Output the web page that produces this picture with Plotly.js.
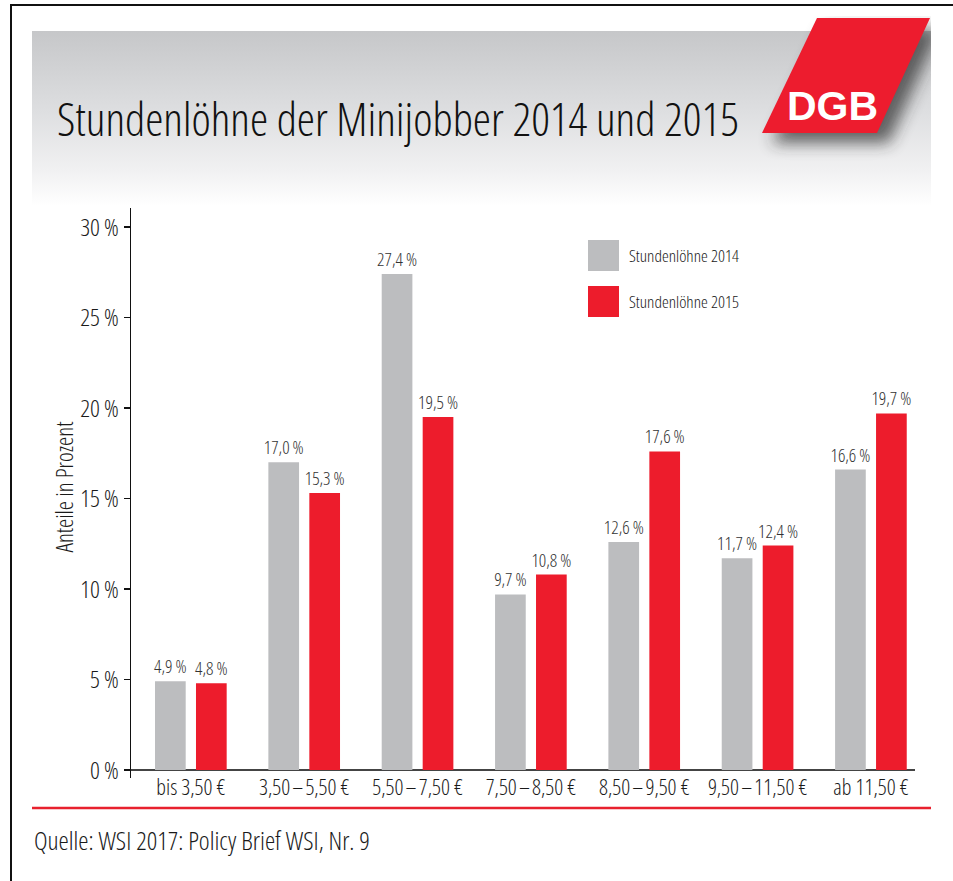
<!DOCTYPE html>
<html>
<head>
<meta charset="utf-8">
<script src="https://cdn.plot.ly/plotly-3.0.1.min.js"></script>
<style>html,body{margin:0;padding:0;background:#fff;}#chart{width:953px;height:881px;}</style>
<style id="stretchcss"></style>
</head>
<body>
<div id="chart"></div>
<script>
// ---- data ----
const categories = ["bis 3,50 €", "3,50\u200A–\u200A5,50 €", "5,50\u200A–\u200A7,50 €", "7,50\u200A–\u200A8,50 €", "8,50\u200A–\u200A9,50 €", "9,50\u200A–\u200A11,50 €", "ab 11,50 €"];
const values2014 = [4.9, 17.0, 27.4, 9.7, 12.6, 11.7, 16.6];
const values2015 = [4.8, 15.3, 19.5, 10.8, 17.6, 12.4, 19.7];
const seriesNames = ["Stundenlöhne 2014", "Stundenlöhne 2015"];
const yTickVals = [0, 5, 10, 15, 20, 25, 30];
const titleText = "Stundenlöhne der Minijobber 2014 und 2015";
const yTitleText = "Anteile in Prozent";
const sourceText = "Quelle: WSI 2017: Policy Brief WSI, Nr. 9";

// ---- font selection (condensed look) ----
function measure(text, family, stretch, weight) {
  const s = document.createElement("span");
  s.style.cssText = "position:absolute;visibility:hidden;white-space:nowrap;font-size:100px;left:0;top:0;";
  s.style.fontFamily = family;
  if (stretch) s.style.fontStretch = stretch;
  if (weight) s.style.fontWeight = weight;
  s.textContent = text;
  document.body.appendChild(s);
  const w = s.getBoundingClientRect().width;
  document.body.removeChild(s);
  return w;
}
let FONT = "'DejaVu Sans Condensed', sans-serif", STRETCH = null;
for (const fam of ["'Open Sans'", "'Noto Sans'"]) {
  const n = measure(titleText, fam, null), c = measure(titleText, fam, "75%");
  if (c < 0.9 * n) { FONT = fam + ", sans-serif"; STRETCH = "75%"; break; }
}
// apply to every svg text (also Plotly's hidden measuring element)
if (STRETCH) document.getElementById("stretchcss").textContent = "text, tspan{font-stretch:" + STRETCH + " !important;}";
const TW = 300, SW = 300;
const fit = (text, target, weight) => Math.max(8, Math.min(60, target / measure(text, FONT, STRETCH, weight) * 100));

const SZ = {
  title: fit(titleText, 682, TW),
  source: fit(sourceText, 336, SW),
  legend: fit(seriesNames[0], 110, SW),
  ytitle: fit(yTitleText, 131, SW),
  xtick: fit(categories[0], 69, SW),
  value: fit("27,4\u2009%", 40, SW),
  ytick: fit("30 %", 39, SW)
};

// ---- layout helpers ----
const FW = 953, FH = 881;
const M = {l: 131, r: 38, t: 208, b: 103};
const PW = FW - M.l - M.r, PH = FH - M.t - M.b;
const px = x => (x - M.l) / PW;
const py = y => (FH - M.b - y) / PH;
const GRAY = "#bcbdbf", RED = "#ed1c2c";
const fmt = v => v.toFixed(1).replace(".", ",") + "\u2009%";

const bg = `<svg xmlns='http://www.w3.org/2000/svg' width='953' height='881' viewBox='0 0 953 881' preserveAspectRatio='none'>
<defs>
<linearGradient id='g' x1='0' y1='0' x2='0' y2='1'>
<stop offset='0' stop-color='#c6c7c9'/>
<stop offset='0.45' stop-color='#dddee0'/>
<stop offset='0.8' stop-color='#f1f1f2'/>
<stop offset='1' stop-color='#ffffff'/>
</linearGradient>
<filter id='b' x='-50%' y='-50%' width='200%' height='200%'><feGaussianBlur stdDeviation='8'/></filter>
<clipPath id='c'><rect x='32' y='16' width='899' height='190'/></clipPath>
</defs>
<rect x='32' y='31' width='899' height='175' fill='url(#g)'/>
<g clip-path='url(#c)'><polygon points='826,28 940,28 889,143 772,143' fill='#2a2a2a' opacity='0.7' filter='url(#b)'/></g>
</svg>`;

const traces = [
  {type: "bar", name: seriesNames[0], x: categories, y: values2014, marker: {color: GRAY},
   text: values2014.map(fmt), textposition: "outside", cliponaxis: false, constraintext: "none",
   textfont: {family: FONT, size: SZ.value, weight: SW, color: "#333"}, hoverinfo: "x+y"},
  {type: "bar", name: seriesNames[1], x: categories, y: values2015, marker: {color: RED},
   text: values2015.map(fmt), textposition: "outside", cliponaxis: false, constraintext: "none",
   textfont: {family: FONT, size: SZ.value, weight: SW, color: "#333"}, hoverinfo: "x+y"}
];

const layout = {
  width: FW, height: FH,
  margin: M,
  paper_bgcolor: "#fff", plot_bgcolor: "rgba(0,0,0,0)",
  showlegend: false,
  barmode: "group", bargap: 0.277, bargroupgap: 0.251,
  font: {family: FONT, color: "#222"},
  xaxis: {type: "category", range: [-0.528, 6.389], showgrid: false, showline: false, zeroline: false,
          tickangle: 0, ticks: "", tickfont: {family: FONT, size: SZ.xtick, weight: SW, color: "#1a1a1a"},
          ticklabelstandoff: -6, fixedrange: true},
  yaxis: {range: [-0.44, 31.05], showgrid: false, showline: true, linecolor: "#111", linewidth: 1.5,
          zeroline: true, zerolinecolor: "#444", zerolinewidth: 1.5,
          ticks: "outside", ticklen: 6, tickwidth: 1.5, tickcolor: "#111",
          tickvals: yTickVals, ticktext: yTickVals.map(v => v + "\u2009%"),
          tickfont: {family: FONT, size: SZ.ytick, weight: SW, color: "#1a1a1a"}, fixedrange: true},
  images: [{source: "data:image/svg+xml;charset=utf-8," + encodeURIComponent(bg),
            xref: "paper", yref: "paper", x: px(0), y: py(0), sizex: FW / PW, sizey: FH / PH,
            xanchor: "left", yanchor: "top", sizing: "stretch", layer: "below"}],
  shapes: [
    {type: "rect", xref: "paper", yref: "paper", x0: px(11), x1: px(960), y0: py(5), y1: py(900),
     line: {color: "#111", width: 2}, fillcolor: "rgba(0,0,0,0)"},
    {type: "path", xref: "paper", yref: "paper",
     path: `M ${px(817)} ${py(18)} L ${px(930)} ${py(18)} L ${px(877)} ${py(133)} L ${px(762)} ${py(133)} Z`,
     fillcolor: "#ed1c2e", line: {width: 0}},
    {type: "rect", xref: "paper", yref: "paper", x0: px(588), x1: px(619), y0: py(240), y1: py(271),
     fillcolor: GRAY, line: {width: 0}},
    {type: "rect", xref: "paper", yref: "paper", x0: px(588), x1: px(619), y0: py(286), y1: py(317),
     fillcolor: RED, line: {width: 0}},
    {type: "line", xref: "paper", yref: "paper", x0: px(32), x1: px(931), y0: py(808), y1: py(808),
     line: {color: "#e8212e", width: 2.5}}
  ],
  annotations: [
    {text: titleText, xref: "paper", yref: "paper", x: px(55), y: py(118), xanchor: "left", yanchor: "middle",
     showarrow: false, font: {family: FONT, size: SZ.title, weight: TW, color: "#111"}},
    {text: "<b>DGB</b>", xref: "paper", yref: "paper", x: px(832), y: py(106), xanchor: "center", yanchor: "middle",
     showarrow: false, font: {family: "'Liberation Sans', Arial, sans-serif", size: 41, color: "#fff"}},
    {text: seriesNames[0], xref: "paper", yref: "paper", x: px(627), y: py(255), xanchor: "left", yanchor: "middle",
     showarrow: false, font: {family: FONT, size: SZ.legend, weight: SW, color: "#1a1a1a"}},
    {text: seriesNames[1], xref: "paper", yref: "paper", x: px(627), y: py(301.5), xanchor: "left", yanchor: "middle",
     showarrow: false, font: {family: FONT, size: SZ.legend, weight: SW, color: "#1a1a1a"}},
    {text: yTitleText, xref: "paper", yref: "paper", x: px(63.5), y: py(487), xanchor: "center", yanchor: "middle",
     textangle: -90, showarrow: false, font: {family: FONT, size: SZ.ytitle, weight: SW, color: "#1a1a1a"}},
    {text: sourceText, xref: "paper", yref: "paper", x: px(32), y: py(840), xanchor: "left", yanchor: "middle",
     showarrow: false, font: {family: FONT, size: SZ.source, weight: SW, color: "#1a1a1a"}}
  ]
};

Plotly.newPlot("chart", traces, layout, {displayModeBar: false, staticPlot: true});
</script>
</body>
</html>
